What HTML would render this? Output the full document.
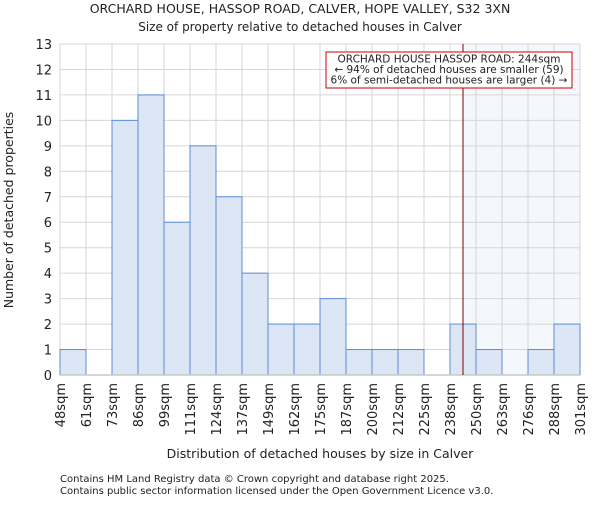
<!DOCTYPE html>
<html><head><meta charset="utf-8"><style>
body{margin:0;background:#fff;}
svg text{font-family:"DejaVu Sans","Liberation Sans",sans-serif;fill:#222;}
</style></head><body>
<svg width="600" height="500" xmlns="http://www.w3.org/2000/svg" id="chart">
<text x="300" y="13" text-anchor="middle" font-size="12.5">ORCHARD HOUSE, HASSOP ROAD, CALVER, HOPE VALLEY, S32 3XN</text>
<text x="300" y="31" text-anchor="middle" font-size="12">Size of property relative to detached houses in Calver</text>
<g id="plot"></g>
<text transform="translate(13,210) rotate(-90)" text-anchor="middle" font-size="12.5">Number of detached properties</text>
<text x="320" y="458" text-anchor="middle" font-size="12.5">Distribution of detached houses by size in Calver</text>
<text x="60" y="482" font-size="10" fill="#444">Contains HM Land Registry data © Crown copyright and database right 2025.</text>
<text x="60" y="494" font-size="10" fill="#444">Contains public sector information licensed under the Open Government Licence v3.0.</text>
</svg>
<script>
const categories=["48sqm","61sqm","73sqm","86sqm","99sqm","111sqm","124sqm","137sqm","149sqm","162sqm","175sqm","187sqm","200sqm","212sqm","225sqm","238sqm","250sqm","263sqm","276sqm","288sqm","301sqm"];
const binEdges=[48,61,73,86,99,111,124,137,149,162,175,187,200,212,225,238,250,263,276,288,301];
const counts=[1,0,10,11,6,9,7,4,2,2,3,1,1,1,0,2,1,0,1,2];
const yTicks=[0,1,2,3,4,5,6,7,8,9,10,11,12,13];
const markerValue=244;
const NS="http://www.w3.org/2000/svg";
const X0=60,X1=580,Y0=375,Y1=44,YMAX=13;
const bw=(X1-X0)/counts.length;
function xIdx(i){return X0+i*bw;}
function xVal(v){let i=0;while(i<binEdges.length-2&&v>binEdges[i+1])i++;return xIdx(i)+(v-binEdges[i])/(binEdges[i+1]-binEdges[i])*bw;}
function y(v){return Y0-(v/YMAX)*(Y0-Y1);}
const g=document.getElementById('plot');
function mk(t,a){const e=document.createElementNS(NS,t);for(const k in a)e.setAttribute(k,a[k]);g.appendChild(e);return e;}
const mx=xVal(markerValue);
let e=mk('rect',{x:mx,y:Y1,width:X1-mx,height:Y0-Y1,fill:'#f4f7fc'});


yTicks.forEach(t=>{
 let l=mk('line',{x1:X0,x2:X1,y1:y(t),y2:y(t),stroke:'#d6d6d6','stroke-width':1});
 
 
 let tx=mk('text',{x:X0-8,y:y(t)+5,'text-anchor':'end','font-size':13});
 tx.textContent=t;
 
 
});
categories.forEach((c,i)=>{
 let l=mk('line',{x1:xIdx(i),x2:xIdx(i),y1:Y1,y2:Y0,stroke:'#d6d6d6','stroke-width':1});
 
 
 let tx=mk('text',{transform:`translate(${xIdx(i)+5},383) rotate(-90)`,'text-anchor':'end','font-size':13});
 tx.textContent=c;
 
 
});
counts.forEach((v,i)=>{
 if(v<=0)return;
 let r=mk('rect',{x:xIdx(i),y:y(v),width:bw,height:Y0-y(v),fill:'#dce6f4',stroke:'#5b8fd6','stroke-width':1});
 
 
});
e=mk('line',{x1:X0,x2:X1,y1:Y0,y2:Y0,stroke:'#c8c8c8','stroke-width':1.5});


e=mk('line',{x1:mx,x2:mx,y1:Y1,y2:Y0,stroke:'#800000','stroke-width':1});


e=mk('rect',{x:326,y:52,width:246,height:36,fill:'#fff',stroke:'#cc0000','stroke-width':1});


["ORCHARD HOUSE HASSOP ROAD: 244sqm","← 94% of detached houses are smaller (59)","6% of semi-detached houses are larger (4) →"].forEach((s,i)=>{
 let t=mk('text',{x:449,y:62.5+i*10.5,'text-anchor':'middle','font-size':10.5});
 t.textContent=s;
 
 
});
</script>
</body></html>
